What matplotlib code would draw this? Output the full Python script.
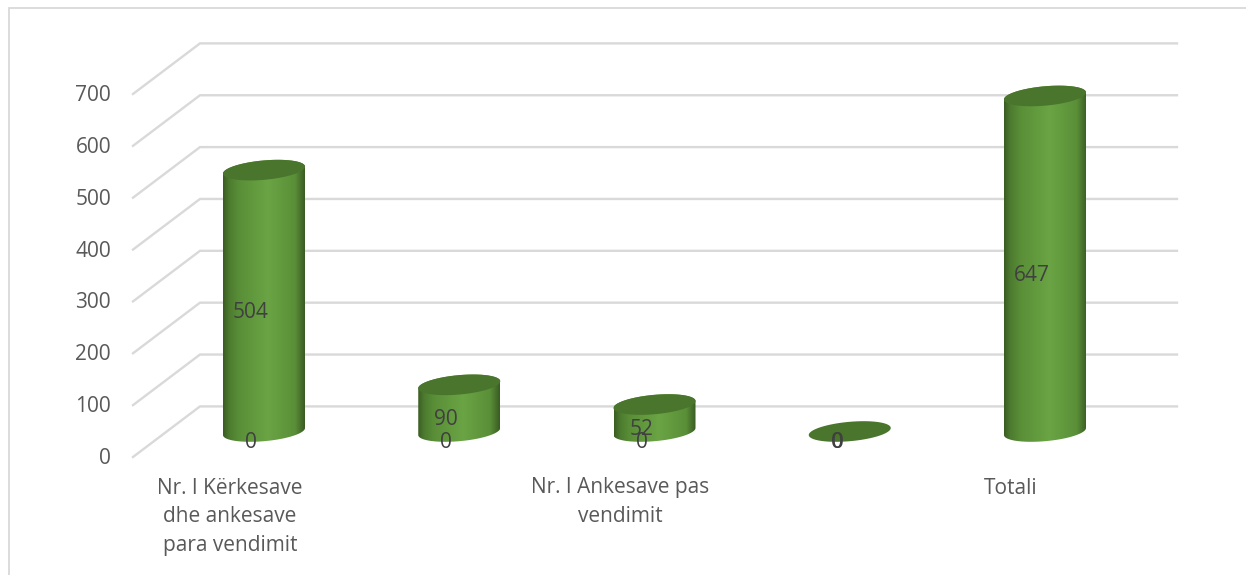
import numpy as np
import matplotlib
matplotlib.use("Agg")
import matplotlib.pyplot as plt
from matplotlib.colors import LinearSegmentedColormap
from matplotlib.patches import Polygon

categories = ["Nr. I Kërkesave\ndhe ankesave\npara vendimit", "",
              "Nr. I Ankesave pas\nvendimit", "", "Totali"]
values = [504, 90, 52, 0, 647]
zero_series = [0, 0, 0, 0]   # no label for it on Totali
y_ticks = [0, 100, 200, 300, 400, 500, 600, 700]

W, H = 1246, 575
PX_PER_CAT = 195.25
PX_PER_VAL = 0.5186
X0, Y0 = 264, 431.5   # pixel of first bar centre / base plane


def px_x(c):
    return (c - X0) / PX_PER_CAT


def px_y(c):
    return (Y0 - c) / PX_PER_VAL


plt.rcParams['font.family'] = ['Open Sans', 'DejaVu Sans']
fig = plt.figure(figsize=(W / 100, H / 100), dpi=100)
ax = fig.add_axes([0, 0, 1, 1])
ax.axis("off")

# chart frame, only top and left show in the crop
ax.plot([px_x(9), px_x(9), px_x(W)], [px_y(H), px_y(7.5), px_y(7.5)],
        color="#d9d9d9", lw=1.3, zorder=0, solid_joinstyle="miter")

# gridlines, floor/wall offsets measured in pixels
back_x0, back_x1, front_x = px_x(200), px_x(1177), px_x(133)
back_dy = (Y0 - 406.4) / PX_PER_VAL
front_dy = (Y0 - 457.0) / PX_PER_VAL
for v in y_ticks:
    ax.plot([front_x, back_x0, back_x1], [v + front_dy, v + back_dy, v + back_dy],
            color="#d9d9d9", lw=1.7, zorder=1, solid_joinstyle="miter")
    ax.text(px_x(111), v + front_dy - 1.5 / PX_PER_VAL, str(v), ha="right", va="center",
            fontsize=15, color="#595959", zorder=5)

cyl = LinearSegmentedColormap.from_list(
    "cyl", [(0, "#3a5c23"), (0.07, "#4c7a2f"), (0.2, "#5a8f38"), (0.55, "#6aa444"),
            (0.88, "#5a8f38"), (1, "#3a5c23")])
grad = np.linspace(0, 1, 256).reshape(1, -1)
t = np.linspace(0, 2 * np.pi, 181)
a, b, k = 41.0, 9.7, 3.5   # ellipse half width, half height, tilt in pixels


def ellipse(i, v):
    ex = i + a * np.cos(t) / PX_PER_CAT
    ey = v + (b * np.sin(t) + k * np.cos(t)) / PX_PER_VAL
    return np.column_stack([ex, ey])


for i, v in enumerate(values):
    half = a / PX_PER_CAT
    if v > 0:
        lower = ellipse(i, 0)[t >= np.pi]    # front edge of the base
        upper = ellipse(i, v)[t <= np.pi]    # back edge of the top
        body = Polygon(np.vstack([lower, upper]), closed=True, fc="none", ec="none")
        ax.add_patch(body)
        im = ax.imshow(grad, cmap=cyl, extent=[i - half, i + half, -30, v + 30],
                       aspect="auto", zorder=3, interpolation="bilinear")
        im.set_clip_path(body)
    ax.add_patch(Polygon(ellipse(i, v), closed=True, fc="#4a752c", ec="none", zorder=4))

ax.set_xlim(px_x(0), px_x(W))
ax.set_ylim(px_y(H), px_y(0))

# data labels: one zero series and one value series
label_dx = -13 / PX_PER_CAT
label_dy = -11.5 / PX_PER_VAL
zero_dy = -10.5 / PX_PER_VAL
for i, z in enumerate(zero_series):
    ax.text(i + label_dx, z + zero_dy, str(z), ha="center", va="center",
            fontsize=15, color="#404040", zorder=6)
for i, v in enumerate(values):
    if v > 0:
        ax.text(i + label_dx, v / 2 + label_dy, str(v),
                ha="center", va="center", fontsize=15, color="#404040", zorder=6)
    else:
        ax.text(i + label_dx + 1.2 / PX_PER_CAT, zero_dy, str(v),
                ha="center", va="center", fontsize=15, color="#404040", zorder=6)

for i, label in enumerate(categories):
    if label:
        ax.text(i - 34 / PX_PER_CAT, px_y(477.5), label, ha="center", va="top",
                fontsize=15, color="#595959", linespacing=1.5, zorder=5)

fig.savefig("out.png", dpi=100)
